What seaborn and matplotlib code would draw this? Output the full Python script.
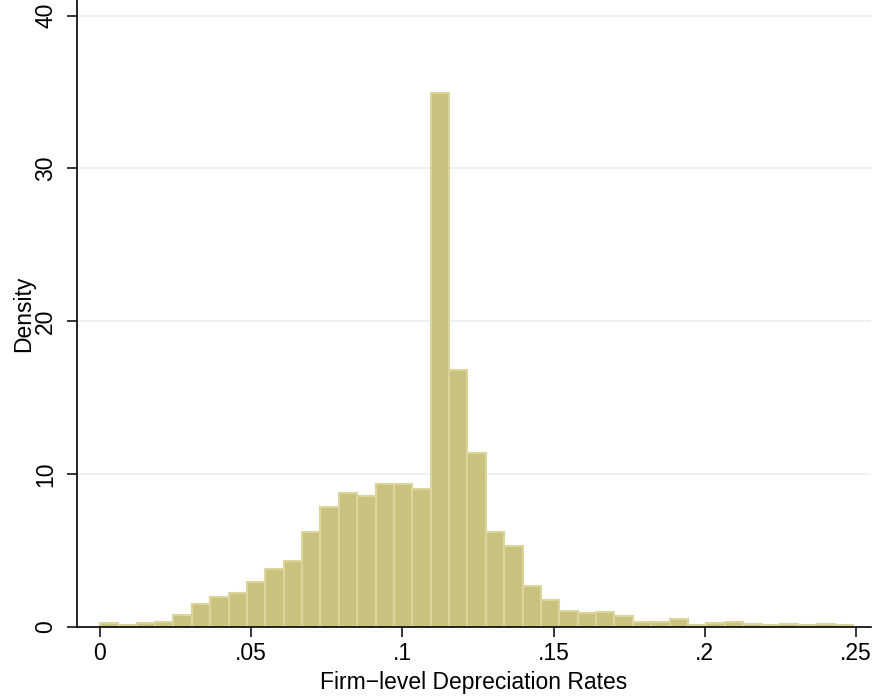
import numpy as np
import pandas as pd
import seaborn as sns
import matplotlib
matplotlib.use("Agg")
import matplotlib.pyplot as plt

# ---- data (Stata-style density histogram, 41 bins) ----
n_bins = 41
x_max = 0.2491
density = [0.24, 0.09, 0.24, 0.30, 0.76, 1.46, 1.92, 2.24, 2.90, 3.75,
           4.30, 6.22, 7.84, 8.77, 8.57, 9.36, 9.36, 9.01, 34.95, 16.80,
           11.40, 6.21, 5.29, 2.67, 1.75, 1.02, 0.88, 0.97, 0.68, 0.33,
           0.33, 0.50, 0.13, 0.26, 0.31, 0.18, 0.10, 0.18, 0.10, 0.18, 0.09]
x_ticks = [0, 0.05, 0.10, 0.15, 0.20, 0.25]
x_ticklabels = ["0", ".05", ".1", ".15", ".2", ".25"]
y_ticks = [0, 10, 20, 30, 40]
y_ticklabels = ["0", "10", "20", "30", "40"]
x_label = "Firm\u2212level Depreciation Rates"
y_label = "Density"

edges = np.linspace(0, x_max, n_bins + 1)
centers = (edges[:-1] + edges[1:]) / 2
df = pd.DataFrame({"rate": centers, "density": density})

sns.set_style("white")
plt.rcParams["font.family"] = ["Liberation Sans", "DejaVu Sans"]
plt.rcParams["text.color"] = "black"
plt.rcParams["axes.labelcolor"] = "black"

fig = plt.figure(figsize=(8.75, 6.98), dpi=100)
ax = fig.add_axes([0.0883, 0.1021, 0.9067, 0.8979])

sns.histplot(data=df, x="rate", weights="density", bins=n_bins,
             binrange=(0, x_max), stat="count",
             color="#C9C27F", edgecolor="#D9D59C", linewidth=1.5, alpha=1,
             ax=ax)

ax.set_xlim(-0.0075, 0.2548)
ax.set_ylim(0, 41.03)

ax.set_xticks(x_ticks)
ax.set_xticklabels(x_ticklabels)
ax.set_yticks(y_ticks)
ax.set_yticklabels(y_ticklabels)
for lab in ax.get_yticklabels():
    lab.set_rotation(90)
    lab.set_va("center")
    lab.set_ha("right")

ax.tick_params(axis="both", direction="out", length=7, width=1.1,
               color="black", labelsize=16.5, labelcolor="black")
ax.tick_params(axis="y", pad=7.5, left=True)
ax.tick_params(axis="x", pad=4.3, bottom=True)

ax.yaxis.grid(True, color="#EAF2F3", linewidth=1.5)
ax.xaxis.grid(False)
ax.set_axisbelow(True)

for side in ["top", "right"]:
    ax.spines[side].set_visible(False)
for side in ["left", "bottom"]:
    ax.spines[side].set_color("black")
    ax.spines[side].set_linewidth(1.2)

ax.set_xlabel(x_label, fontsize=16.5, labelpad=4, color="black")
ax.set_ylabel(y_label, fontsize=16.5, labelpad=-1, color="black")

fig.savefig("out.png", dpi=100)
